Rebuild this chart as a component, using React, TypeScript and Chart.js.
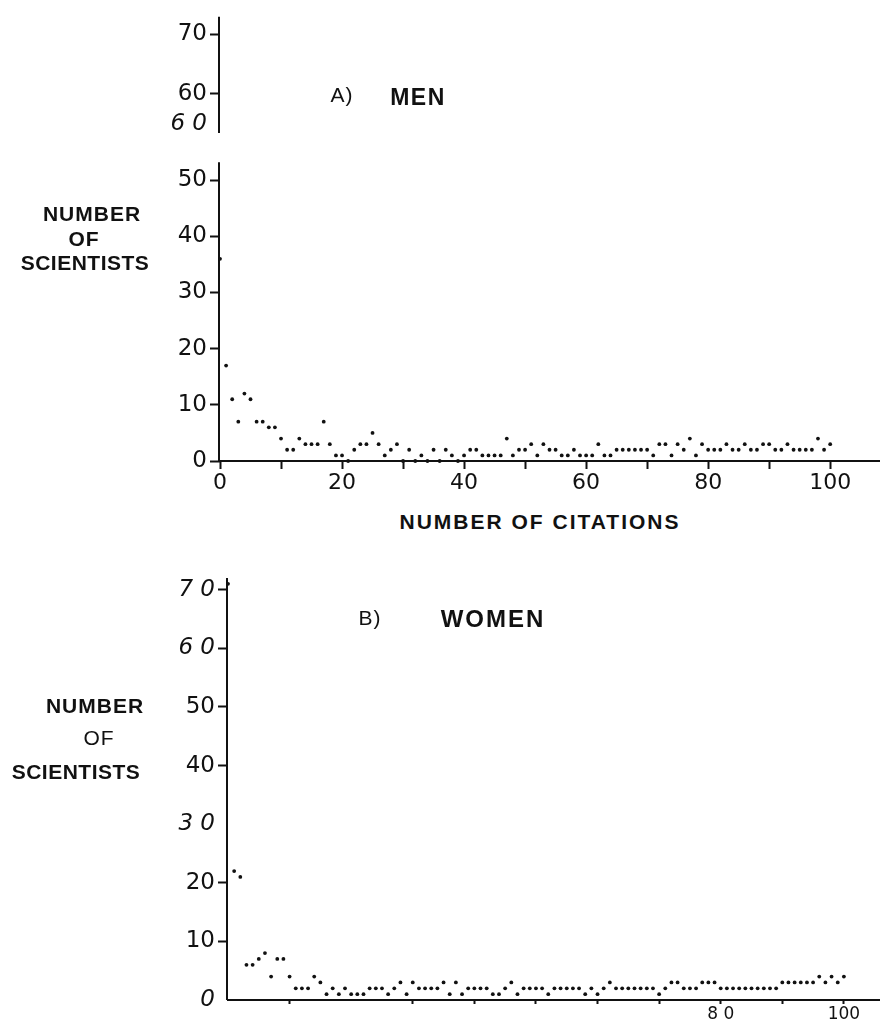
import { useEffect, useRef } from "react";
import { Chart, registerables } from "chart.js";

Chart.register(...registerables);

// ---- Data: number of scientists at each citation count (0..100) ----
const menCounts = [
  36, 17, 11, 7, 12, 11, 7, 7, 6, 6,
  4, 2, 2, 4, 3, 3, 3, 7, 3, 1,
  1, 0, 2, 3, 3, 5, 3, 1, 2, 3,
  0, 2, 0, 1, 0, 2, 0, 2, 1, 0,
  1, 2, 2, 1, 1, 1, 1, 4, 1, 2,
  2, 3, 1, 3, 2, 2, 1, 1, 2, 1,
  1, 1, 3, 1, 1, 2, 2, 2, 2, 2,
  2, 1, 3, 3, 1, 3, 2, 4, 1, 3,
  2, 2, 2, 3, 2, 2, 3, 2, 2, 3,
  3, 2, 2, 3, 2, 2, 2, 2, 4, 2,
  3,
];

const womenCounts = [
  71, 22, 21, 6, 6, 7, 8, 4, 7, 7,
  4, 2, 2, 2, 4, 3, 1, 2, 1, 2,
  1, 1, 1, 2, 2, 2, 1, 2, 3, 1,
  3, 2, 2, 2, 2, 3, 1, 3, 1, 2,
  2, 2, 2, 1, 1, 2, 3, 1, 2, 2,
  2, 2, 1, 2, 2, 2, 2, 2, 1, 2,
  1, 2, 3, 2, 2, 2, 2, 2, 2, 2,
  1, 2, 3, 3, 2, 2, 2, 3, 3, 3,
  2, 2, 2, 2, 2, 2, 2, 2, 2, 2,
  3, 3, 3, 3, 3, 3, 4, 3, 4, 3,
  4,
];

// ---- Tick labels ----
const menYTicks = [0, 10, 20, 30, 40, 50, 60, 65.4, 76];
const menYLabels = ["0", "10", "20", "30", "40", "50", "6 0", "60", "70"];
const menYItalic = [false, false, false, false, false, false, true, false, false];
const menYNoTick = [false, false, false, false, false, false, true, false, false];
const menXTicks = [0, 10, 20, 30, 40, 50, 60, 70, 80, 90, 100];
const menXLabels = ["0", "", "20", "", "40", "", "60", "", "80", "", "100"];

const womenYTicks = [0, 10, 20, 30, 40, 50, 60, 70];
const womenYLabels = ["0", "10", "20", "3 0", "40", "50", "6 0", "7 0"];
const womenYItalic = [true, false, false, true, false, false, true, true];
const womenYNoTick = [true, false, false, true, false, false, false, false];
const womenXTicks = [10, 30, 40, 50, 60, 70, 80, 90, 100];
const womenXLabels = ["", "", "", "", "", "", "8 0", "", "100"];

const INK = "#111";

const yAxisLinePlugin = {
  id: "yAxisLine",
  beforeDatasetsDraw(chart: any, _args: any, opts: any) {
    const { ctx, scales } = chart;
    const x = scales.x;
    const y = scales.y;
    const px = x.getPixelForValue(0) - 1;
    ctx.save();
    ctx.strokeStyle = INK;
    ctx.lineWidth = 2;
    (opts.segments || []).forEach((seg: number[]) => {
      ctx.beginPath();
      ctx.moveTo(px, y.getPixelForValue(seg[0]));
      ctx.lineTo(px, y.getPixelForValue(seg[1]));
      ctx.stroke();
    });
    ctx.restore();
  },
};

type Cfg = {
  counts: number[];
  yMax: number;
  xMax: number;
  yTicks: number[];
  yLabels: string[];
  yItalic: boolean[];
  yNoTick: boolean[];
  xTicks: number[];
  xLabels: string[];
  padTop: number;
  yWidth: number;
  xHeight: number;
  xTickLen: number;
  xFont: number;
  xPad: number;
  segments: number[][];
};

function buildConfig(c: Cfg): any {
  return {
    type: "scatter",
    data: {
      datasets: [
        {
          data: c.counts.map((v, i) => ({ x: i, y: v })),
          backgroundColor: INK,
          borderWidth: 0,
          pointRadius: 1.9,
          clip: false,
        },
      ],
    },
    plugins: [yAxisLinePlugin],
    options: {
      animation: false,
      responsive: false,
      maintainAspectRatio: false,
      layout: { padding: { top: c.padTop, right: 1, left: 0, bottom: 0 } },
      plugins: {
        legend: { display: false },
        tooltip: { enabled: false },
        yAxisLine: { segments: c.segments },
      },
      scales: {
        x: {
          type: "linear",
          min: 0,
          max: c.xMax,
          afterFit: (s: any) => {
            s.height = c.xHeight;
          },
          afterBuildTicks: (s: any) => {
            s.ticks = c.xTicks.map((v) => ({ value: v }));
          },
          border: { display: true, color: INK, width: 2 },
          grid: {
            drawOnChartArea: false,
            drawTicks: true,
            tickLength: c.xTickLen,
            tickColor: INK,
            tickWidth: 2,
          },
          ticks: {
            autoSkip: false,
            maxRotation: 0,
            padding: c.xPad,
            color: INK,
            font: { family: "DejaVu Sans", size: c.xFont },
            callback: (_v: any, i: number) => c.xLabels[i],
          },
        },
        y: {
          type: "linear",
          min: 0,
          max: c.yMax,
          afterFit: (s: any) => {
            s.width = c.yWidth;
          },
          afterBuildTicks: (s: any) => {
            s.ticks = c.yTicks.map((v) => ({ value: v }));
          },
          border: { display: false },
          grid: {
            drawOnChartArea: false,
            drawTicks: true,
            tickLength: 10,
            tickWidth: 2,
            tickColor: (ctx: any) =>
              c.yNoTick[ctx.index] ? "rgba(0,0,0,0)" : INK,
          },
          ticks: {
            autoSkip: false,
            padding: 3,
            color: INK,
            font: (ctx: any) => ({
              family: "DejaVu Sans",
              size: 23,
              style: c.yItalic[ctx.index] ? "italic" : "normal",
            }),
            callback: (_v: any, i: number) => c.yLabels[i],
          },
        },
      },
    },
  };
}

function ScatterPanel(props: { cfg: Cfg; top: number; height: number }) {
  const ref = useRef<HTMLCanvasElement | null>(null);
  useEffect(() => {
    if (!ref.current) return;
    const chart = new Chart(ref.current, buildConfig(props.cfg));
    return () => chart.destroy();
  }, []);
  return (
    <canvas
      ref={ref}
      width={883}
      height={props.height}
      style={{ position: "absolute", left: 0, top: props.top, width: 883, height: props.height }}
    />
  );
}

const bold: any = {
  position: "absolute",
  fontFamily: "'Liberation Sans', Arial, sans-serif",
  fontWeight: 700,
  color: INK,
  whiteSpace: "nowrap",
  lineHeight: 1,
};

function Label(props: { x: number; y: number; text: string; size: number; weight?: number; spacing?: number }) {
  return (
    <div
      style={{
        ...bold,
        left: props.x,
        top: props.y,
        fontSize: props.size,
        fontWeight: props.weight ?? 700,
        letterSpacing: props.spacing ?? 1,
        transform: "translate(-50%, -50%)",
      }}
    >
      {props.text}
    </div>
  );
}

export default function App() {
  const menCfg: Cfg = {
    counts: menCounts,
    yMax: 79.1,
    xMax: 108,
    yTicks: menYTicks,
    yLabels: menYLabels,
    yItalic: menYItalic,
    yNoTick: menYNoTick,
    xTicks: menXTicks,
    xLabels: menXLabels,
    padTop: 10,
    yWidth: 220,
    xHeight: 39,
    xTickLen: 8,
    xFont: 22,
    xPad: 1,
    segments: [
      [0, 53.2],
      [58.4, 79.1],
    ],
  };
  const womenCfg: Cfg = {
    counts: womenCounts,
    yMax: 72,
    xMax: 105.7,
    yTicks: womenYTicks,
    yLabels: womenYLabels,
    yItalic: womenYItalic,
    yNoTick: womenYNoTick,
    xTicks: womenXTicks,
    xLabels: womenXLabels,
    padTop: 38,
    yWidth: 228,
    xHeight: 21,
    xTickLen: 4,
    xFont: 17,
    xPad: 0,
    segments: [[0, 72]],
  };
  return (
    <div style={{ position: "absolute", left: 0, top: 0, width: 883, height: 1021, overflow: "hidden", background: "#fff" }}>
      <ScatterPanel cfg={menCfg} top={0} height={500} />
      <ScatterPanel cfg={womenCfg} top={540} height={481} />

      <Label x={342} y={94} text="A)" size={21} weight={400} />
      <Label x={418} y={97} text="MEN" size={23} spacing={1.5} />
      <Label x={92} y={213} text="NUMBER" size={21} />
      <Label x={84} y={238} text="OF" size={21} />
      <Label x={85} y={262} text="SCIENTISTS" size={21} spacing={0.5} />
      <Label x={540} y={521} text="NUMBER OF CITATIONS" size={21} spacing={2} />

      <Label x={370} y={617} text="B)" size={21} weight={400} />
      <Label x={493} y={619} text="WOMEN" size={24} spacing={2} />
      <Label x={95} y={705} text="NUMBER" size={21} />
      <Label x={99} y={737} text="OF" size={21} weight={400} />
      <Label x={76} y={771} text="SCIENTISTS" size={21} spacing={0.5} />
    </div>
  );
}
